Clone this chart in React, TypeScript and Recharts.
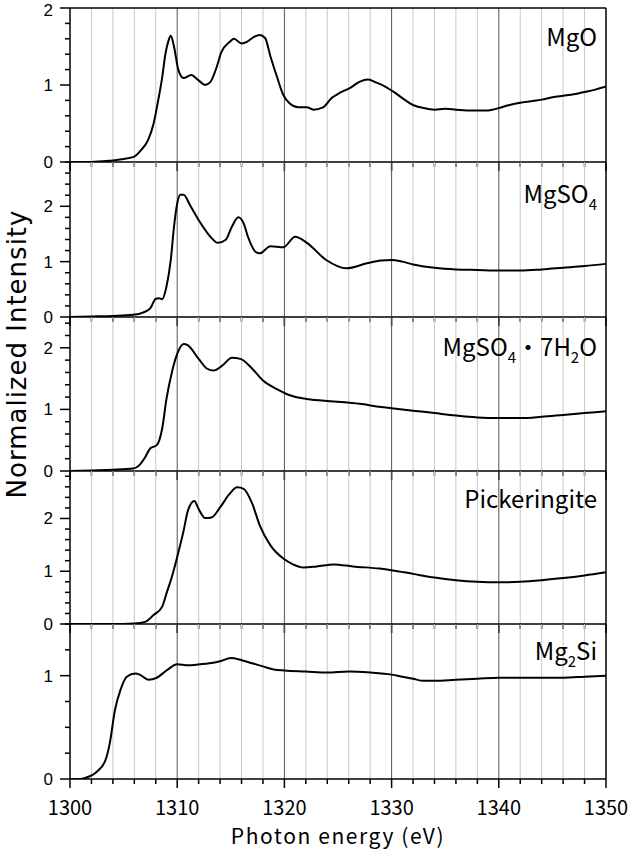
import React from "react";
import { LineChart, Line, XAxis, YAxis, ReferenceLine } from "recharts";

// energies (eV) and normalized intensities
const mgoEnergy = [1300, 1302, 1303, 1304, 1305, 1306, 1306.6, 1307.3, 1307.8, 1308.2, 1308.6, 1308.9, 1309.2, 1309.4, 1309.7, 1310.1, 1310.6, 1311.3, 1312, 1312.6, 1313.1, 1313.7, 1314.1, 1314.9, 1315.3, 1316, 1316.5, 1317.1, 1317.7, 1318.2, 1318.7, 1319.3, 1319.9, 1320.5, 1321.3, 1322.1, 1322.7, 1323.6, 1324.4, 1325.2, 1326.1, 1327, 1327.8, 1328.6, 1329.4, 1330.2, 1331, 1332, 1333, 1334, 1335, 1336, 1337, 1338, 1339, 1340, 1341, 1342, 1343, 1344, 1345, 1346, 1347, 1348, 1349, 1350];
const mgoIntensity = [0, 0, 0.01, 0.02, 0.04, 0.07, 0.15, 0.29, 0.5, 0.78, 1.1, 1.4, 1.58, 1.64, 1.5, 1.2, 1.09, 1.13, 1.06, 1.0, 1.04, 1.24, 1.42, 1.56, 1.6, 1.54, 1.56, 1.62, 1.65, 1.61, 1.37, 1.11, 0.87, 0.76, 0.71, 0.71, 0.68, 0.71, 0.83, 0.9, 0.96, 1.04, 1.07, 1.03, 0.98, 0.91, 0.83, 0.74, 0.7, 0.68, 0.69, 0.68, 0.67, 0.67, 0.67, 0.7, 0.74, 0.77, 0.79, 0.81, 0.84, 0.86, 0.88, 0.91, 0.94, 0.98];

const mgso4Energy = [1300, 1302, 1304, 1305.9, 1306.8, 1307.5, 1308, 1308.3, 1308.6, 1309, 1309.4, 1309.7, 1310, 1310.3, 1310.6, 1311.2, 1312.1, 1313.1, 1313.8, 1314.5, 1315.1, 1315.7, 1316.2, 1316.6, 1317.3, 1317.7, 1318.7, 1319.9, 1321, 1322.1, 1323.9, 1325.8, 1327.7, 1329, 1330, 1331, 1332, 1334, 1336, 1338, 1340, 1342, 1344, 1346, 1348, 1350];
const mgso4Intensity = [0, 0.01, 0.02, 0.04, 0.08, 0.16, 0.33, 0.34, 0.32, 0.55, 1.03, 1.63, 2.05, 2.21, 2.21, 2.02, 1.72, 1.45, 1.34, 1.39, 1.63, 1.8, 1.69, 1.45, 1.18, 1.15, 1.28, 1.26, 1.45, 1.34, 1.03, 0.88, 0.97, 1.02, 1.03, 1.0, 0.95, 0.89, 0.86, 0.85, 0.84, 0.84, 0.86, 0.89, 0.92, 0.96];

const hydrateEnergy = [1300, 1302, 1304, 1305.9, 1306.5, 1307, 1307.5, 1308.1, 1308.6, 1309, 1309.5, 1310, 1310.6, 1311, 1312, 1312.8, 1313.4, 1314.2, 1315.1, 1315.9, 1317, 1318, 1319.3, 1320.5, 1322.1, 1324.6, 1327, 1329, 1330, 1332, 1334, 1336, 1338, 1340, 1342, 1344, 1346, 1348, 1350];
const hydrateIntensity = [0, 0.01, 0.02, 0.04, 0.1, 0.22, 0.37, 0.42, 0.69, 1.17, 1.6, 1.9, 2.06, 2.04, 1.82, 1.66, 1.63, 1.71, 1.84, 1.82, 1.66, 1.47, 1.33, 1.23, 1.17, 1.13, 1.09, 1.04, 1.02, 0.98, 0.94, 0.9, 0.87, 0.86, 0.86, 0.88, 0.91, 0.94, 0.97];

const pickeringiteEnergy = [1300, 1304, 1306, 1307, 1307.8, 1308.6, 1309, 1309.5, 1310, 1310.6, 1311, 1311.6, 1312, 1312.6, 1313.2, 1314, 1314.9, 1315.6, 1316.2, 1317, 1317.7, 1318.7, 1319.9, 1320.8, 1321.8, 1323, 1324.6, 1326.4, 1328.9, 1330, 1332, 1334, 1336, 1338, 1340, 1342, 1344, 1346, 1348, 1350];
const pickeringiteIntensity = [0, 0, 0.01, 0.04, 0.17, 0.33, 0.58, 0.89, 1.27, 1.77, 2.15, 2.33, 2.18, 2.01, 2.02, 2.21, 2.47, 2.59, 2.56, 2.28, 1.87, 1.49, 1.24, 1.13, 1.07, 1.09, 1.13, 1.09, 1.05, 1.02, 0.95, 0.88, 0.83, 0.8, 0.79, 0.8, 0.83, 0.87, 0.92, 0.98];

const mg2siEnergy = [1300, 1301, 1301.4, 1302.5, 1303.3, 1303.7, 1304.2, 1304.7, 1305.3, 1306.1, 1306.5, 1307.3, 1308.1, 1309, 1310, 1311, 1312.1, 1313, 1314, 1315, 1316, 1317, 1318, 1319, 1320, 1322, 1324, 1326, 1328, 1330, 1331, 1332, 1333, 1334, 1336, 1338, 1340, 1342, 1344, 1346, 1348, 1350];
const mg2siIntensity = [0, 0, 0.01, 0.07, 0.18, 0.34, 0.67, 0.86, 0.99, 1.02, 1.01, 0.96, 0.98, 1.05, 1.11, 1.1, 1.11, 1.12, 1.14, 1.17, 1.15, 1.12, 1.09, 1.06, 1.05, 1.04, 1.03, 1.04, 1.03, 1.01, 0.99, 0.97, 0.95, 0.95, 0.96, 0.97, 0.98, 0.98, 0.98, 0.98, 0.99, 1.0];

const xTicks = [1300, 1302, 1304, 1306, 1308, 1310, 1312, 1314, 1316, 1318, 1320, 1322, 1324, 1326, 1328, 1330, 1332, 1334, 1336, 1338, 1340, 1342, 1344, 1346, 1348, 1350];

const W = 640;
const H = 856;
const PLOT_LEFT = 70;
const PLOT_RIGHT = 606;
const FONT = "'Noto Sans CJK JP', 'Noto Sans', sans-serif";
const TICK_FONT = "'Liberation Sans', Arial, sans-serif";
const TITLE_FONT = "'DejaVu Sans', sans-serif";

function steps(max: number, step: number) {
  const out: number[] = [];
  for (let i = 0; i * step <= max + 1e-9; i++) out.push(+(i * step).toFixed(3));
  return out;
}

function zip(e: number[], v: number[]) {
  return e.map((x, i) => ({ e: x, v: v[i] }));
}

const subStyle = { fontSize: 15, verticalAlign: -7 };

const panels = [
  { key: "mgo", top: 8, bottom: 162, yMax: 2, minor: 0.2, data: zip(mgoEnergy, mgoIntensity), label: <>MgO</> },
  { key: "mgso4", top: 162, bottom: 317, yMax: 2.8, minor: 0.2, data: zip(mgso4Energy, mgso4Intensity), label: <>MgSO<sub style={subStyle}>4</sub></> },
  { key: "hyd", top: 317, bottom: 471, yMax: 2.5, minor: 0.2, data: zip(hydrateEnergy, hydrateIntensity), label: <>MgSO<sub style={subStyle}>4</sub>・7H<sub style={subStyle}>2</sub>O</> },
  { key: "pick", top: 471, bottom: 624, yMax: 2.9, minor: 0.2, data: zip(pickeringiteEnergy, pickeringiteIntensity), label: <>Pickeringite</> },
  { key: "mg2si", top: 624, bottom: 779, yMax: 1.5, minor: 0.25, data: zip(mg2siEnergy, mg2siIntensity), label: <>Mg<sub style={subStyle}>2</sub>Si</> },
];

// 标签基线位置（各面板右上角）
const labelBaselines = [45, 202, 355, 507, 659];

const YTick = ({ y, payload }: any) => {
  const v = payload.value as number;
  const major = Math.abs(v - Math.round(v)) < 1e-6;
  return (
    <g>
      <line x1={PLOT_LEFT - (major ? 10 : 5)} x2={PLOT_LEFT} y1={y} y2={y} stroke="#000" strokeWidth={1.5} />
      {major && (
        <text x={PLOT_LEFT - 17} y={Math.max(y + 6, 16)} textAnchor="end" fontSize={17} fontFamily={TICK_FONT} fill="#000">
          {Math.round(v)}
        </text>
      )}
    </g>
  );
};

const XTick = ({ x, payload, bottom, showLabel }: any) => {
  const v = payload.value as number;
  const major = v % 10 === 0;
  return (
    <g>
      <line x1={x} x2={x} y1={bottom} y2={bottom + (major ? 9 : 5)} stroke="#000" strokeWidth={1.5} />
      {showLabel && major && (
        <text x={x} y={bottom + 36} textAnchor="middle" fontSize={20} fontFamily={FONT} fill="#000">
          {v}
        </text>
      )}
    </g>
  );
};

export default function App() {
  return (
    <div style={{ position: "absolute", left: 0, top: 0, width: W, height: H, background: "#fff", fontFamily: FONT }}>
      {panels.map((p, i) => {
        const last = i === panels.length - 1;
        return (
          <div key={p.key} style={{ position: "absolute", left: 0, top: 0 }}>
            <LineChart
              width={W}
              height={H}
              data={p.data}
              margin={{ top: p.top, bottom: H - p.bottom - 30, left: PLOT_LEFT - 60, right: W - PLOT_RIGHT }}
            >
              <XAxis
                dataKey="e"
                type="number"
                domain={[1300, 1350]}
                ticks={xTicks}
                interval={0}
                height={30}
                tickLine={false}
                axisLine={{ stroke: "#000", strokeWidth: 1.5 }}
                tick={(props: any) => <XTick {...props} bottom={p.bottom} showLabel={last} />}
                allowDataOverflow
              />
              <YAxis
                type="number"
                domain={[0, p.yMax]}
                ticks={steps(p.yMax, p.minor)}
                interval={0}
                width={60}
                tickLine={false}
                axisLine={{ stroke: "#000", strokeWidth: 1.5 }}
                tick={(props: any) => <YTick {...props} />}
                allowDataOverflow
              />
              {xTicks.slice(1, -1).map((t) => (
                <ReferenceLine key={t} x={t} stroke={t % 10 === 0 ? "#555" : "#c8c8c8"} strokeWidth={1} />
              ))}
              <ReferenceLine x={1350} stroke="#000" strokeWidth={1.5} />
              {i === 0 && <ReferenceLine y={p.yMax} stroke="#000" strokeWidth={1.5} />}
              <Line
                type="monotone"
                dataKey="v"
                stroke="#000"
                strokeWidth={2}
                dot={false}
                activeDot={false}
                isAnimationActive={false}
              />
            </LineChart>
          </div>
        );
      })}

      {panels.map((p, i) => (
        <div
          key={p.key + "-label"}
          style={{
            position: "absolute",
            right: W - 597,
            top: labelBaselines[i] - 21,
            fontSize: 24,
            lineHeight: 1,
            whiteSpace: "nowrap",
            color: "#000",
          }}
        >
          {p.label}
        </div>
      ))}

      <svg width={40} height={H} style={{ position: "absolute", left: 0, top: 0 }}>
        <text
          transform="translate(26,354) rotate(-90)"
          textAnchor="middle"
          fontSize={26}
          letterSpacing={1}
          fontFamily={TITLE_FONT}
          fill="#000"
        >
          Normalized Intensity
        </text>
      </svg>
      <div
        style={{
          position: "absolute",
          left: PLOT_LEFT,
          width: PLOT_RIGHT - PLOT_LEFT,
          top: 825,
          fontSize: 21,
          letterSpacing: 1.6,
          lineHeight: 1,
          textAlign: "center",
          whiteSpace: "nowrap",
        }}
      >
        Photon energy (eV)
      </div>
    </div>
  );
}
